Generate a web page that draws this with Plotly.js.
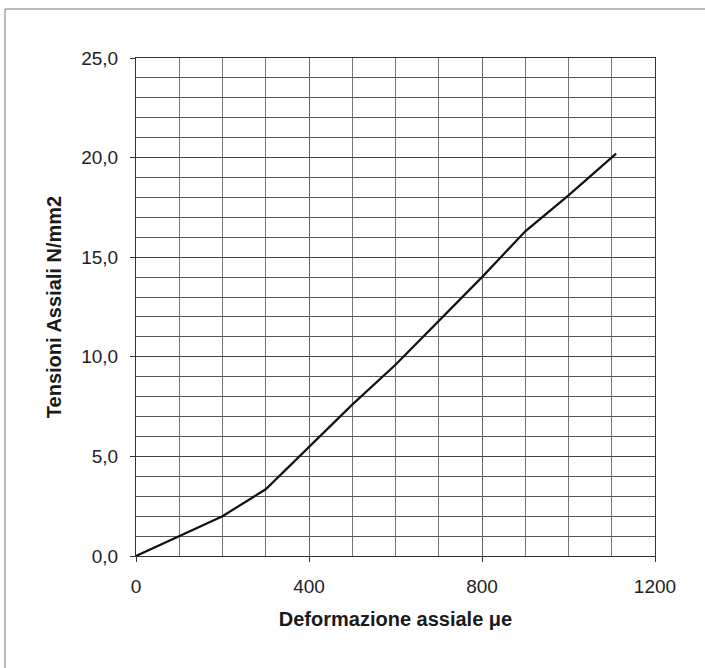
<!DOCTYPE html>
<html>
<head>
<meta charset="utf-8">
<script src="https://cdn.plot.ly/plotly-3.0.1.min.js"></script>
<style>html,body{margin:0;padding:0;background:#fff;}#chart{width:705px;height:668px;}</style>
</head>
<body>
<div id="chart"></div>
<script>
const strain = [0, 100, 200, 300, 400, 500, 600, 700, 800, 900, 1000, 1110];
const stress = [0, 1.0, 2.0, 3.35, 5.45, 7.6, 9.6, 11.8, 14.0, 16.3, 18.1, 20.2];
const xTickVals = [0, 400, 800, 1200];
const yTickVals = [0, 5, 10, 15, 20, 25];
const yTickText = ["0,0", "5,0", "10,0", "15,0", "20,0", "25,0"];

const W = 705, H = 668, L = 136, R = 50, T = 58, B = 112;
const pw = W - L - R, ph = H - T - B;
const px = v => (v - L) / pw;
const py = v => (H - B - v) / ph;

const fam = "Liberation Sans, Arial, sans-serif";
const tickFont = {family: fam, size: 19, color: "#222"};
const titleFont = {family: fam, size: 20, color: "#1a1a1a"};

Plotly.newPlot("chart", [{
  x: strain, y: stress, type: "scatter", mode: "lines",
  line: {color: "#111", width: 2.2}, hoverinfo: "skip"
}], {
  width: W, height: H,
  margin: {l: L, r: R, t: T, b: B},
  paper_bgcolor: "#fff", plot_bgcolor: "#fff",
  showlegend: false,
  font: {family: fam, size: 19, color: "#222"},
  xaxis: {
    range: [0, 1200], tickvals: xTickVals, ticktext: xTickVals.map(String),
    showgrid: true, gridcolor: "#666", gridwidth: 1,
    minor: {dtick: 100, tick0: 0, showgrid: true, gridcolor: "#777", gridwidth: 1, ticks: ""},
    ticks: "outside", ticklen: 5, tickcolor: "#333",
    ticklabelstandoff: 8,
    showline: true, linecolor: "#333", linewidth: 1, mirror: true,
    zeroline: false,
    tickfont: tickFont,
    title: {text: "<b>Deformazione assiale μe</b>", font: titleFont, standoff: 16}
  },
  yaxis: {
    range: [0, 25], tickvals: yTickVals, ticktext: yTickText,
    showgrid: true, gridcolor: "#444", gridwidth: 1,
    minor: {dtick: 1, tick0: 0, showgrid: true, gridcolor: "#555", gridwidth: 1, ticks: ""},
    ticks: "outside", ticklen: 5, tickcolor: "#333",
    ticklabelstandoff: 8,
    showline: true, linecolor: "#333", linewidth: 1, mirror: true,
    zeroline: false,
    tickfont: tickFont,
    title: {text: "<b>Tensioni Assiali N/mm2</b>", font: titleFont, standoff: 14}
  },
  shapes: [
    {type: "line", xref: "paper", yref: "paper", x0: px(5), x1: px(5), y0: py(H + 20), y1: py(9), line: {color: "#777", width: 1}},
    {type: "line", xref: "paper", yref: "paper", x0: px(5), x1: px(W + 20), y0: py(9), y1: py(9), line: {color: "#777", width: 1}}
  ]
}, {displayModeBar: false, staticPlot: true});
</script>
</body>
</html>
